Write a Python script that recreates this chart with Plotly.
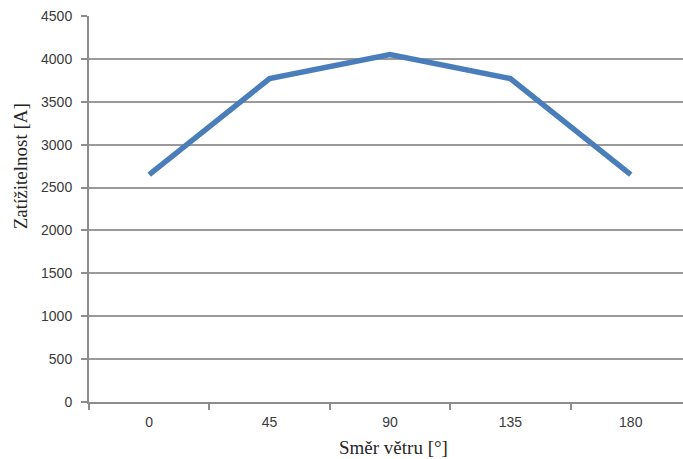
import plotly.graph_objects as go

# Wind direction categories and current-carrying capacity
wind_direction = ["0", "45", "90", "135", "180"]
capacity = [2650, 3770, 4050, 3770, 2650]

y_ticks = [0, 500, 1000, 1500, 2000, 2500, 3000, 3500, 4000, 4500]

axis_gray = "#8c8c8c"
grid_gray = "#9a9a9a"
text_dark = "#3a3a3a"

fig = go.Figure()
fig.add_trace(go.Scatter(
    x=wind_direction,
    y=capacity,
    mode="lines",
    line=dict(color="#4a7ebb", width=5.5),
    hoverinfo="x+y",
))

fig.update_layout(
    width=683,
    height=459,
    margin=dict(l=89, r=0, t=16, b=57),
    paper_bgcolor="white",
    plot_bgcolor="white",
    showlegend=False,
    font=dict(family="Liberation Sans, Arial, sans-serif", size=14, color=text_dark),
)

fig.update_xaxes(
    type="category",
    range=[-0.5, 4.434],
    tickson="boundaries",
    ticks="outside",
    ticklen=6,
    tickwidth=2,
    tickcolor=axis_gray,
    showline=True,
    linecolor=axis_gray,
    linewidth=2,
    showgrid=False,
    ticklabelstandoff=6,
    tickfont=dict(size=14, color=text_dark),
)

fig.update_yaxes(
    range=[0, 4500],
    tickvals=y_ticks,
    ticktext=[str(v) for v in y_ticks],
    ticks="outside",
    ticklen=6,
    tickwidth=2,
    tickcolor=axis_gray,
    showline=True,
    linecolor=axis_gray,
    linewidth=2,
    showgrid=True,
    gridcolor=grid_gray,
    gridwidth=2,
    zeroline=False,
    ticklabelstandoff=6,
    tickfont=dict(size=14, color=text_dark),
)

# Axis titles
fig.add_annotation(
    text="Zatížitelnost [A]",
    xref="paper", yref="paper",
    x=-0.116, y=0.611,
    xanchor="center", yanchor="middle",
    textangle=-90,
    showarrow=False,
    font=dict(family="Liberation Serif, Times New Roman, serif", size=19, color="#262626"),
)
fig.add_annotation(
    text="Směr větru [°]",
    xref="paper", yref="paper",
    x=0.512, y=-0.117,
    xanchor="center", yanchor="middle",
    showarrow=False,
    font=dict(family="Liberation Serif, Times New Roman, serif", size=19, color="#262626"),
)

fig.write_html("out.html")
